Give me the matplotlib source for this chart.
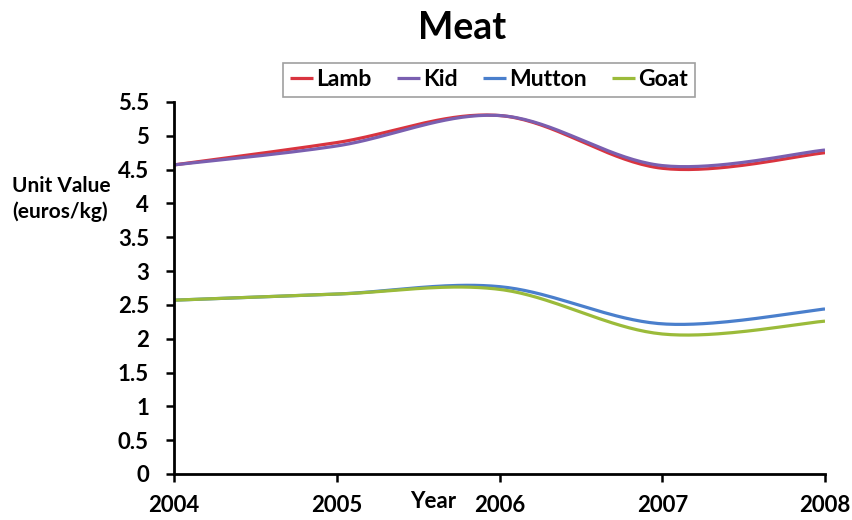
import numpy as np
import matplotlib
matplotlib.use("Agg")
import matplotlib.pyplot as plt

years = [2004, 2005, 2006, 2007, 2008]
lamb = [4.57, 4.90, 5.30, 4.52, 4.75]
kid = [4.57, 4.85, 5.30, 4.56, 4.79]
mutton = [2.57, 2.66, 2.77, 2.22, 2.44]
goat = [2.57, 2.66, 2.73, 2.07, 2.26]

series_names = ["Lamb", "Kid", "Mutton", "Goat"]
series_values = [lamb, kid, mutton, goat]
series_colors = ["#D9343F", "#7A5FB0", "#4A7FCC", "#9BBB3A"]

y_ticks = [0, 0.5, 1, 1.5, 2, 2.5, 3, 3.5, 4, 4.5, 5, 5.5]
y_tick_labels = ["0", "0.5", "1", "1.5", "2", "2.5", "3", "3.5", "4", "4.5", "5", "5.5"]


def smooth(xs, ys, n=40):
    """Cardinal Bezier smoothing through every data point."""
    xs = np.asarray(xs, float)
    ys = np.asarray(ys, float)
    px = np.concatenate([[xs[0]], xs, [xs[-1]]])
    py = np.concatenate([[ys[0]], ys, [ys[-1]]])
    out_x, out_y = [], []
    t = np.linspace(0, 1, n)
    for i in range(1, len(px) - 2):
        p0 = np.array([px[i], py[i]])
        p3 = np.array([px[i + 1], py[i + 1]])
        c1 = p0 + (np.array([px[i + 1], py[i + 1]]) - np.array([px[i - 1], py[i - 1]])) / 6
        c2 = p3 - (np.array([px[i + 2], py[i + 2]]) - np.array([px[i], py[i]])) / 6
        b = ((1 - t) ** 3)[:, None] * p0 + (3 * (1 - t) ** 2 * t)[:, None] * c1 \
            + (3 * (1 - t) * t ** 2)[:, None] * c2 + (t ** 3)[:, None] * p3
        out_x.extend(b[:, 0])
        out_y.extend(b[:, 1])
    return np.array(out_x), np.array(out_y)


plt.rcParams["font.family"] = ["Lato", "DejaVu Sans"]
plt.rcParams["font.weight"] = "bold"

fig = plt.figure(figsize=(8.52, 5.2), dpi=100)
ax = fig.add_axes([174 / 852, 1 - 474 / 520, (825 - 174) / 852, (474 - 102) / 520])

for name, vals, col in zip(series_names, series_values, series_colors):
    sx, sy = smooth(years, vals)
    ax.plot(sx, sy, color=col, lw=2.3, label=name, solid_capstyle="butt")

ax.set_xlim(years[0], years[-1])
ax.set_ylim(0, 5.5)
ax.set_xticks(years)
ax.set_xticklabels([str(y) for y in years], fontsize=16, fontweight="bold")
ax.set_yticks(y_ticks)
ax.set_yticklabels(y_tick_labels, fontsize=16, fontweight="bold")
ax.tick_params(axis="both", direction="out", length=6, width=1.8, colors="black", pad=12)
ax.tick_params(axis="x", pad=9)
for s in ["top", "right"]:
    ax.spines[s].set_visible(False)
for s in ["left", "bottom"]:
    ax.spines[s].set_linewidth(2)
    ax.spines[s].set_color("black")

fig.text(462 / 852, 1 - 28 / 520, "Meat", ha="center", va="center",
         fontsize=27, fontweight="bold")
fig.text(12 / 852, 1 - 199 / 520, "Unit Value\n(euros/kg)", ha="left", va="center",
         fontsize=15, fontweight="bold", linespacing=1.35)
fig.text(433 / 852, 1 - 508 / 520, "Year", ha="center", va="baseline",
         fontsize=16, fontweight="bold")

leg = fig.legend(loc="center", bbox_to_anchor=(489 / 852, 1 - 80 / 520), ncol=4,
                 frameon=True, fancybox=False, handlelength=1.0, handletextpad=0.15,
                 columnspacing=1.1, borderpad=0.3,
                 prop={"size": 16.5, "weight": "bold"})
leg.get_frame().set_edgecolor("#888888")
leg.get_frame().set_linewidth(1.2)

fig.savefig("out.png", dpi=100)
